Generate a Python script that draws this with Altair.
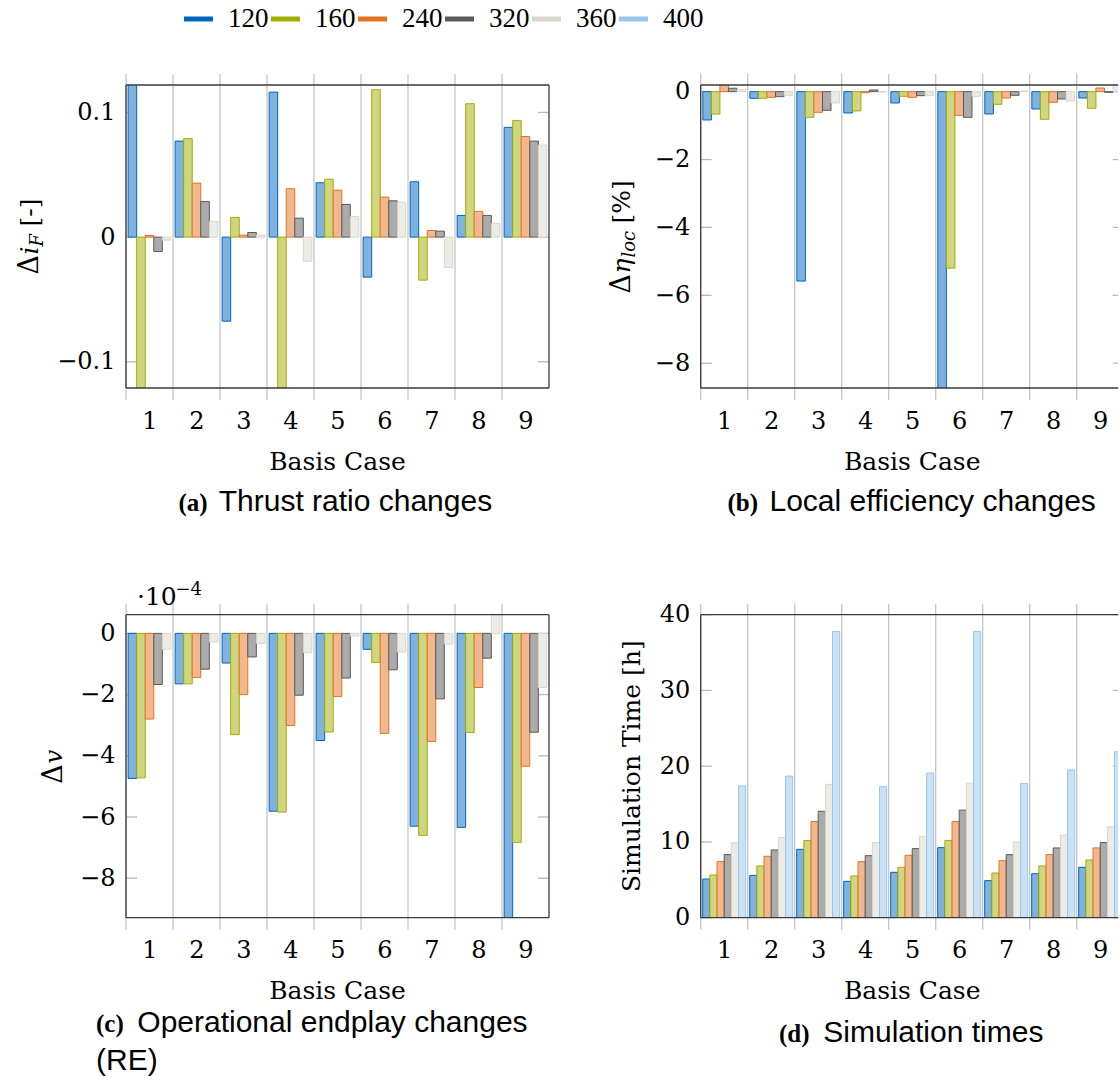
import altair as alt
import pandas as pd

# ---------------- data ----------------
cases = [1, 2, 3, 4, 5, 6, 7, 8, 9]
series = ["120", "160", "240", "320", "360", "400"]
stroke_colors = ["#0065BD", "#A2AD00", "#E37222", "#5A5A5A", "#D9D6CA", "#98C6EA"]
fill_colors = ["#7FB2DE", "#D0D680", "#F1B890", "#ABABAB", "#ECEBE5", "#CBE2F4"]

thrust_ratio = {
    "120": [0.13, 0.077, -0.0674, 0.1163, 0.0436, -0.0321, 0.0444, 0.0174, 0.088],
    "160": [-0.13, 0.079, 0.0158, -0.13, 0.0465, 0.1182, -0.0345, 0.107, 0.0936],
    "240": [0.0013, 0.0433, 0.0016, 0.0388, 0.0377, 0.0321, 0.0053, 0.0206, 0.0807],
    "320": [-0.0115, 0.0286, 0.0037, 0.0152, 0.0262, 0.0291, 0.0048, 0.0174, 0.077],
    "360": [-0.0024, 0.0126, 0.0016, -0.0193, 0.0166, 0.0281, -0.0243, 0.011, 0.0738],
}
local_eff = {
    "120": [-0.835, -0.196, -5.58, -0.628, -0.334, -9.2, -0.658, -0.51, -0.187],
    "160": [-0.66, -0.196, -0.756, -0.569, -0.137, -5.20, -0.373, -0.815, -0.49],
    "240": [0.2, -0.167, -0.609, -0.03, -0.167, -0.697, -0.187, -0.314, 0.108],
    "320": [0.1, -0.147, -0.55, 0.05, -0.118, -0.756, -0.108, -0.216, -0.02],
    "360": [0.06, -0.108, -0.334, -0.01, -0.118, -0.137, 0.02, -0.275, 0.2],
}
endplay = {
    "120": [-4.74, -1.65, -0.97, -5.81, -3.50, -0.52, -6.30, -6.34, -9.6],
    "160": [-4.72, -1.65, -3.31, -5.84, -3.22, -0.95, -6.60, -3.24, -6.83],
    "240": [-2.80, -1.44, -2.00, -3.01, -2.06, -3.27, -3.53, -1.77, -4.34],
    "320": [-1.67, -1.17, -0.77, -2.02, -1.46, -1.19, -2.14, -0.81, -3.23],
    "360": [-0.52, -0.28, -0.33, -0.63, -0.09, -0.61, -0.35, 0.62, -1.77],
}
sim_time = {
    "120": [5.11, 5.59, 9.03, 4.80, 5.99, 9.25, 4.89, 5.81, 6.65],
    "160": [5.64, 6.83, 10.2, 5.51, 6.65, 10.2, 5.90, 6.83, 7.62],
    "240": [7.40, 8.11, 12.7, 7.40, 8.24, 12.7, 7.53, 8.33, 9.21],
    "320": [8.33, 8.94, 14.05, 8.19, 9.12, 14.2, 8.33, 9.21, 9.91],
    "360": [9.91, 10.6, 17.6, 9.91, 10.7, 17.75, 10.0, 10.9, 12.0],
    "400": [17.4, 18.7, 37.8, 17.3, 19.1, 37.8, 17.7, 19.5, 21.9],
}

ticks_a = [-0.1, 0, 0.1]
ticks_b = [-8, -6, -4, -2, 0]
ticks_c = [-8, -6, -4, -2, 0]
ticks_d = [0, 10, 20, 30, 40]

# ---------------- layout constants ----------------
GROUP = 47.0
FULL_W = 423
RIGHT_W = 417.5
H = 303
SERIF = "DejaVu Serif"
SANS = "Liberation Sans"
BOLDSERIF = "Liberation Serif"

stroke_scale = alt.Scale(domain=series, range=stroke_colors)
fill_scale = alt.Scale(domain=series, range=fill_colors)
one = pd.DataFrame({"o": [0]})


def long_df(vals):
    keys = [s for s in series if s in vals]
    n = len(keys)
    rows = []
    for k, s in enumerate(keys):
        for c, v in zip(cases, vals[s]):
            rows.append(dict(case=c, series=s, k=k, n=n, value=v))
    return pd.DataFrame(rows)


def text(t, x, y, size, font=SERIF, style="normal", weight="normal",
         align="left", baseline="alphabetic", angle=0):
    return alt.Chart(one).mark_text(
        text=t, font=font, fontSize=size, fontStyle=style, fontWeight=weight,
        align=align, baseline=baseline, angle=angle, color="black"
    ).encode(x=alt.value(x), y=alt.value(y))


def vtitle(pieces, x_base):
    # pieces: (text, style, size, baseline shift, advance incl. following gap)
    tot = sum(p[4] for p in pieces)
    y = H / 2 + tot / 2
    out = []
    for t, style, size, shift, w in pieces:
        out.append(text(t, x_base + shift, y, size, style=style, angle=270))
        y -= w
    return out


def caption(letter, desc, x_letter, x_desc, y):
    return [
        text(letter, x_letter, y, 25, font=BOLDSERIF, weight="bold"),
        text(desc, x_desc, y, 30, font=SANS),
    ]


def panel(vals, ydom, yticks, W, bar_w, right_frame, extra, yfmt):
    df = long_df(vals)
    step = bar_w / GROUP
    xs = alt.Scale(domain=[0.5, 0.5 + W / GROUP], nice=False, zero=False, padding=0)
    ys = alt.Scale(domain=ydom, nice=False, zero=False, padding=0)
    xa = alt.Axis(values=cases, title=None, domain=False, ticks=False, tickSize=0,
                  grid=False, labelFont=SERIF, labelFontSize=24, labelColor="black",
                  labelPadding=40, labelBaseline="alphabetic", labelFlush=False,
                  labelOverlap=False, format="d")
    ya = alt.Axis(values=yticks, title=None, domain=False, ticks=False, tickSize=0,
                  grid=False, labelFont=SERIF, labelFontSize=24, labelColor="black",
                  labelPadding=11, labelFlush=False, labelOverlap=False, format=yfmt)

    sep_df = pd.DataFrame({"sep": [c - 0.5 for c in cases]})
    seps = alt.Chart(sep_df).mark_rule(color="#c6c6c6", strokeWidth=1.3).encode(
        x=alt.X("sep:Q", scale=xs, axis=xa), y=alt.value(-11), y2=alt.value(H + 12))

    tk_df = pd.DataFrame({"t": yticks})
    tl = alt.Chart(tk_df).mark_rule(color="#b9b9b9", strokeWidth=1.3).encode(
        y=alt.Y("t:Q", scale=ys, axis=ya), x=alt.value(0), x2=alt.value(11))
    tr = alt.Chart(tk_df).mark_rule(color="#b9b9b9", strokeWidth=1.3).encode(
        y=alt.Y("t:Q", scale=ys, axis=ya), x=alt.value(FULL_W - 11), x2=alt.value(W))

    bars = alt.Chart(df).transform_calculate(
        pos=f"datum.case + (datum.k - (datum.n - 1) / 2) * {step}"
    ).mark_bar(width=bar_w, clip=True, strokeWidth=1).encode(
        x=alt.X("pos:Q", scale=xs, axis=xa),
        y=alt.Y("value:Q", scale=ys, axis=ya),
        y2=alt.datum(0),
        fill=alt.Fill("series:N", scale=fill_scale, legend=None),
        stroke=alt.Stroke("series:N", scale=stroke_scale, legend=None),
    )

    fc = "#3a3a3a"
    frame = [
        alt.Chart(one).mark_rule(color=fc, strokeWidth=1.3).encode(
            x=alt.value(0), x2=alt.value(W), y=alt.value(0)),
        alt.Chart(one).mark_rule(color=fc, strokeWidth=1.3).encode(
            x=alt.value(0), x2=alt.value(W), y=alt.value(H)),
        alt.Chart(one).mark_rule(color=fc, strokeWidth=1.3).encode(
            x=alt.value(0), y=alt.value(0), y2=alt.value(H)),
    ]
    if right_frame:
        frame.append(alt.Chart(one).mark_rule(color=fc, strokeWidth=1.3).encode(
            x=alt.value(W), y=alt.value(0), y2=alt.value(H)))

    xtitle = text("Basis Case", FULL_W / 2, H + 81.5, 25, align="center")
    return alt.layer(seps, tl, tr, bars, *frame, xtitle, *extra)


# ---------- panel (a) ----------
a_extra = vtitle([
    ("Δ", "normal", 27, 0, 20),
    ("i", "italic", 25, 0, 8),
    ("F", "italic", 18, 5, 20),
    ("[-]", "normal", 25, 0, 28),
], -88) + caption("(a)", "Thrust ratio changes", 52.5, 92.7, H + 122.7) + [
    alt.Chart(one).mark_rule(color="white", strokeWidth=1).encode(
        x=alt.value(-125.5), x2=alt.value(-120), y=alt.value(-84.5))
]
main_a = panel(thrust_ratio, [-0.121, 0.122], ticks_a, FULL_W, 8.55, True, a_extra, "~g")

leg_df = pd.DataFrame({"series": series, "idx": list(range(len(series)))})
ls = alt.Scale(domain=[-58 / 87, -58 / 87 + FULL_W / 87], nice=False, zero=False, padding=0)
leg_rule = alt.Chart(leg_df).transform_calculate(x2="datum.idx + 29 / 87").mark_rule(
    strokeWidth=5).encode(
    x=alt.X("idx:Q", scale=ls, axis=None), x2="x2:Q", y=alt.value(-66),
    stroke=alt.Stroke("series:N", scale=stroke_scale, legend=None))
leg_text = alt.Chart(leg_df).transform_calculate(lx="datum.idx + 44 / 87").mark_text(
    align="left", baseline="alphabetic", font="Liberation Serif", fontSize=27,
    color="black").encode(
    x=alt.X("lx:Q", scale=ls, axis=None), y=alt.value(-58), text="series:N")
pa = alt.layer(main_a, alt.layer(leg_rule, leg_text)).resolve_scale(
    x="independent").properties(width=FULL_W, height=H)

# ---------- panel (b) ----------
b_extra = vtitle([
    ("Δ", "normal", 27, 0, 20),
    ("η", "italic", 25, 0, 16),
    ("loc", "italic", 18, 5, 34),
    ("[%]", "normal", 25, 0, 44),
], -70.7) + caption("(b)", "Local efficiency changes", 26.8, 68.8, H + 123)
pb = panel(local_eff, [-8.73, 0.196], ticks_b, RIGHT_W, 8.55, False, b_extra, "d").properties(
    width=RIGHT_W, height=H)

# ---------- panel (c) ----------
c_extra = vtitle([
    ("Δ", "normal", 27, 0, 20),
    ("v", "italic", 25, 0, 15),
], -64) + caption("(c)", "Operational endplay changes", -30, 11.3, H + 114.7) + [
    text("(RE)", -30, H + 152.7, 30, font=SANS),
    text("·10", 11, -10, 25),
    text("−4", 49.5, -20, 18),
]
pc = panel(endplay, [-9.29, 0.61], ticks_c, FULL_W, 8.55, True, c_extra, "d").properties(
    width=FULL_W, height=H)

# ---------- panel (d) ----------
d_extra = [text("Simulation Time [h]", -60.7, H / 2, 25, align="center", angle=270)] + \
    caption("(d)", "Simulation times", 78.3, 122.6, H + 124.4)
pd_ = panel(sim_time, [0, 40], ticks_d, RIGHT_W, 7.17, False, d_extra, "d").properties(
    width=RIGHT_W, height=H)

chart = alt.concat(
    pa, pb, pc, pd_, columns=2,
    spacing={"row": 226.7, "column": 151.7}, bounds="flush",
).resolve_scale(x="independent", y="independent").configure_view(
    stroke=None
).configure_axis(
    labelFont=SERIF, labelFontSize=24, labelColor="black"
).properties(padding=0, background="white")

chart.save("out.html", embed_options={"renderer": "svg", "actions": False})
